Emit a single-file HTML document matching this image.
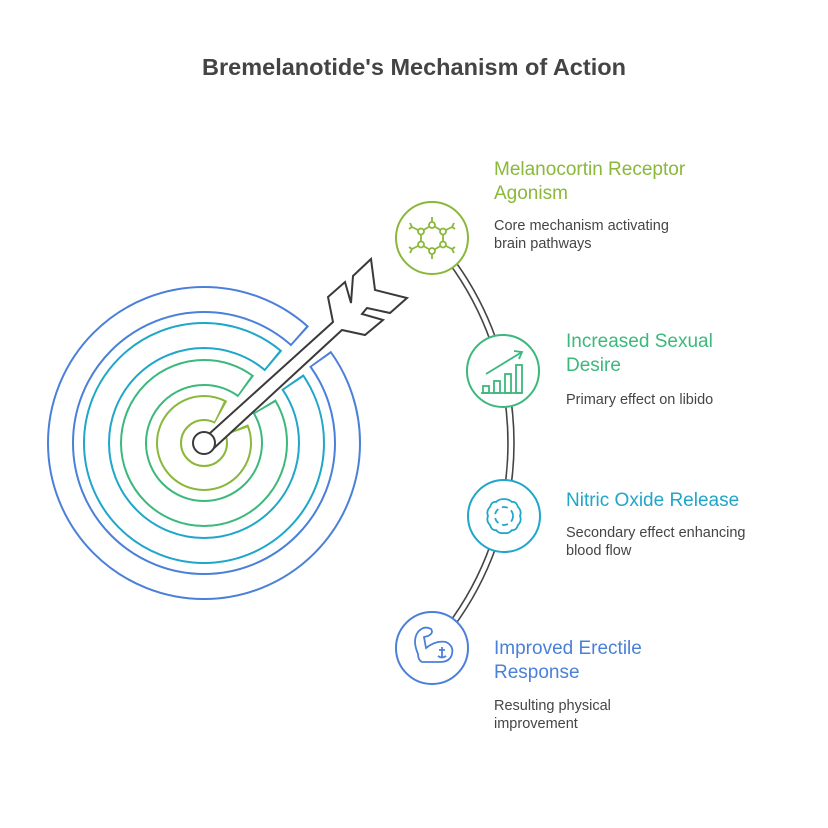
<!DOCTYPE html>
<html><head><meta charset="utf-8"><style>
html,body{margin:0;padding:0;background:#fff}
svg{display:block}
text{font-family:"Liberation Sans",sans-serif}
.t{font-size:19px}
.d{font-size:14.5px;fill:#454545}
</style></head><body>
<svg width="828" height="828" viewBox="0 0 828 828" xmlns="http://www.w3.org/2000/svg">
<text x="414" y="75" text-anchor="middle" font-size="23.5" font-weight="bold" fill="#444">Bremelanotide's Mechanism of Action</text>

<!-- connector double arc -->
<g fill="none" stroke="#444" stroke-width="1.6">
<path d="M 429.9 239.6 A 304 304 0 0 1 429.9 646.4"/>
<path d="M 434.4 235.6 A 310 310 0 0 1 434.4 650.4"/>
</g>

<!-- target bands -->
<g fill="none" transform="translate(204,443)">
<circle r="143.5" pathLength="360" stroke="#4a80d9" stroke-width="27" stroke-dasharray="348 12" stroke-dashoffset="-324"/>
<circle r="143.5" pathLength="360" stroke="#fff" stroke-width="23" stroke-dasharray="346.4 13.6" stroke-dashoffset="-324.8"/>
<circle r="107.5" pathLength="360" stroke="#1fa6c9" stroke-width="27" stroke-dasharray="345 15" stroke-dashoffset="-325.5"/>
<circle r="107.5" pathLength="360" stroke="#fff" stroke-width="23" stroke-dasharray="342.8 17.2" stroke-dashoffset="-326.6"/>
<circle r="70.5" pathLength="360" stroke="#3cb87c" stroke-width="27" stroke-dasharray="338 22" stroke-dashoffset="-329"/>
<circle r="70.5" pathLength="360" stroke="#fff" stroke-width="23" stroke-dasharray="334.8 25.2" stroke-dashoffset="-330.6"/>
<circle r="35" pathLength="360" stroke="#8ab83a" stroke-width="26" stroke-dasharray="322 38" stroke-dashoffset="-337"/>
<circle r="35" pathLength="360" stroke="#fff" stroke-width="22" stroke-dasharray="315.4 44.6" stroke-dashoffset="-340.3"/>
</g>

<!-- arrow -->
<g fill="#fff" stroke="#3a3a3a" stroke-width="2" stroke-linejoin="miter">
<path d="M 209 434 L 333 322 L 328 297 L 345 282 L 351 303 L 353 276 L 371 259 L 375 290 L 407 298 L 390 313 L 367 308 L 362 314 L 383 320 L 365 335 L 342 330 L 213 449 Z" stroke="none"/>
<path d="M 209 434 L 333 322 L 328 297 L 345 282 L 351 303 L 353 276 L 371 259 L 375 290 L 407 298 L 390 313 L 367 308 L 362 314 L 383 320 L 365 335 L 342 330 L 213 449" fill="none"/>
<circle cx="204" cy="443" r="11"/>
</g>

<!-- circles -->
<g fill="#fff" stroke-width="2">
<circle cx="432" cy="238" r="36" stroke="#8ab83a"/>
<circle cx="503" cy="371" r="36" stroke="#3cb87c"/>
<circle cx="504" cy="516" r="36" stroke="#1fa6c9"/>
<circle cx="432" cy="648" r="36" stroke="#4a80d9"/>
</g>

<!-- icon 1 molecule -->
<g fill="none" stroke="#8ab83a" stroke-width="1.8" transform="translate(432,238)">
<path d="M0 -13 L11 -6.5 L11 6.5 L0 13 L-11 6.5 L-11 -6.5 Z"/>
<g fill="#fff"><circle cx="0" cy="-13" r="3"/><circle cx="11" cy="-6.5" r="3"/><circle cx="11" cy="6.5" r="3"/><circle cx="0" cy="13" r="3"/><circle cx="-11" cy="6.5" r="3"/><circle cx="-11" cy="-6.5" r="3"/></g>
<path d="M0 -16 V-21 M0 16 V21 M14 -8 L20 -11 M14 8 L20 11 M-14 -8 L-20 -11 M-14 8 L-20 11 M20 -11 l2 -4 M20 -11 l3 2 M-20 -11 l-2 -4 M-20 -11 l-3 2 M20 11 l2 4 M20 11 l3 -2 M-20 11 l-2 4 M-20 11 l-3 -2"/>
</g>

<!-- icon 2 bars -->
<g fill="none" stroke="#3cb87c" stroke-width="1.8">
<path d="M481 393 H521"/>
<rect x="483" y="386" width="6" height="7"/>
<rect x="494" y="381" width="6" height="12"/>
<rect x="505" y="374" width="6" height="19"/>
<rect x="516" y="365" width="6" height="28"/>
<path d="M486 374 L522 352 M514 351 L522 352 L519 359"/>
</g>

<!-- icon 3 wavy -->
<g fill="none" stroke="#1fa6c9" stroke-width="1.8" transform="translate(504,516)">
<path d="M0 -17 Q5 -17 8 -14 Q12 -15 14 -9 Q18 -5 16 0 Q18 5 14 9 Q12 15 8 14 Q5 18 0 17 Q-5 18 -8 14 Q-12 15 -14 9 Q-18 5 -16 0 Q-18 -5 -14 -9 Q-12 -15 -8 -14 Q-5 -17 0 -17 Z"/>
<circle r="9" stroke-dasharray="6 4"/>
</g>

<!-- icon 4 arm -->
<g fill="none" stroke="#4a80d9" stroke-width="1.8">
<path d="M418 654 Q412 640 418 632 Q424 625 431 629 Q434 633 428 636 L424 637 L426 648 Q436 640 446 642 Q454 646 452 654 Q450 662 440 662 L422 662 Q418 660 418 654 Z"/>
<path d="M442 647 V657 M439 650 H445 M438 656 Q442 659 446 656"/>
</g>

<!-- texts -->
<text class="t" fill="#8ab83a" x="494" y="175">Melanocortin Receptor</text>
<text class="t" fill="#8ab83a" x="494" y="199">Agonism</text>
<text class="d" x="494" y="230">Core mechanism activating</text>
<text class="d" x="494" y="248">brain pathways</text>

<text class="t" fill="#3cb87c" x="566" y="347">Increased Sexual</text>
<text class="t" fill="#3cb87c" x="566" y="371">Desire</text>
<text class="d" x="566" y="404">Primary effect on libido</text>

<text class="t" fill="#1fa6c9" x="566" y="506">Nitric Oxide Release</text>
<text class="d" x="566" y="537">Secondary effect enhancing</text>
<text class="d" x="566" y="555">blood flow</text>

<text class="t" fill="#4a80d9" x="494" y="654">Improved Erectile</text>
<text class="t" fill="#4a80d9" x="494" y="678">Response</text>
<text class="d" x="494" y="710">Resulting physical</text>
<text class="d" x="494" y="728">improvement</text>
</svg>
</body></html>
